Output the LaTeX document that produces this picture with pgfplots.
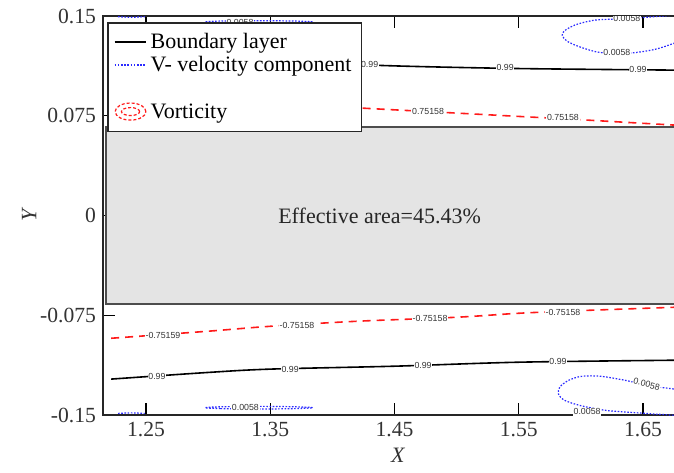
\documentclass[border=0pt]{standalone}
\usepackage{pgfplots}
\pgfplotsset{compat=1.18}
\usepackage{fontspec}
\setmainfont{Liberation Serif}
\newfontfamily\lblfont{Liberation Sans}
\definecolor{rectfill}{HTML}{E4E4E4}
\definecolor{rectedge}{HTML}{4D4D4D}
\definecolor{vblue}{HTML}{2B2BFF}
\definecolor{vred}{HTML}{FF1A1A}

\tikzset{clab/.style={font=\lblfont\fontsize{4.4}{5}\selectfont, fill=white, inner sep=0.4pt, text=black!80}}

\begin{document}
\begin{tikzpicture}
\begin{axis}[
    scale only axis, width=294.85pt, height=199.5pt,
    xmin=1.2154, xmax=1.69, ymin=-0.15, ymax=0.15,
    xtick={1.25,1.35,1.45,1.55,1.65},
    xticklabels={1.25,1.35,1.45,1.55,1.65},
    ytick={-0.15,-0.075,0,0.075,0.15},
    yticklabels={-0.15,-0.075,0,0.075,0.15},
    tick align=inside, major tick length=6pt,
    tick style={black, line width=0.6pt},
    axis line style={line width=0.8pt, black!85},
    tick label style={font=\fontsize{10.8}{12}\selectfont, text=black!80},
    label style={font=\fontsize{11}{13}\selectfont\itshape, text=black!80},
    xlabel={X}, ylabel={Y}, ylabel shift=-5pt, xlabel shift=-1pt,
    legend style={at={(rel axis cs:0.0068,0.985)}, anchor=north west,
        draw=black!85, line width=0.8pt, fill=white,
        font=\fontsize{11}{12}\selectfont, inner xsep=3pt, inner ysep=3pt,
        row sep=-1.5pt},
    legend cell align=left,
]
\coordinate (BL) at (rel axis cs:0,0);

% ---- blocked region ----
\addplot[fill=rectfill, draw=rectedge, line width=0.8pt, forget plot]
    coordinates {(1.2178,-0.0667) (1.72,-0.0667) (1.72,0.0667) (1.2178,0.0667)} -- cycle;
\node[font=\fontsize{11}{13}\selectfont, text=black!85] at (axis cs:1.438,0) {Effective area=45.43\%};

% ---- boundary layer (0.99) ----
\addplot[black, line width=0.8pt, smooth, forget plot] coordinates {
    (1.222,0.122) (1.30,0.118) (1.35,0.116) (1.45,0.1125) (1.55,0.1105) (1.675,0.1093) (1.69,0.109)};
\addplot[black, line width=0.8pt, smooth, forget plot] coordinates {
    (1.222,-0.123) (1.30,-0.118) (1.35,-0.1155) (1.45,-0.1133) (1.55,-0.1103) (1.675,-0.1088) (1.69,-0.1085)};

% ---- vorticity ----
\addplot[vred, line width=0.8pt, dash pattern=on 4pt off 3pt, smooth, forget plot] coordinates {
    (1.222,0.093) (1.30,0.088) (1.40,0.082) (1.50,0.077) (1.55,0.0745) (1.60,0.072) (1.675,0.068) (1.69,0.0675)};
\addplot[vred, line width=0.8pt, dash pattern=on 4pt off 3pt, smooth, forget plot] coordinates {
    (1.222,-0.0923) (1.30,-0.087) (1.35,-0.0833) (1.42,-0.0795) (1.50,-0.0765) (1.55,-0.0735) (1.60,-0.0715) (1.675,-0.069) (1.69,-0.0685)};

% ---- V-velocity ----
\addplot[vblue, line width=0.6pt, dash pattern=on 0.8pt off 0.8pt, smooth, forget plot] coordinates {
    (1.695,0.152) (1.66,0.1495) (1.632,0.1478) (1.612,0.147) (1.596,0.1435) (1.587,0.139) (1.585,0.1355)
    (1.589,0.131) (1.600,0.1265) (1.616,0.1225) (1.64,0.1222) (1.66,0.125) (1.675,0.1295) (1.69,0.134)};
\addplot[vblue, line width=0.6pt, dash pattern=on 0.8pt off 0.8pt, smooth, forget plot] coordinates {
    (1.69,-0.133) (1.675,-0.1305) (1.655,-0.128) (1.635,-0.1238) (1.615,-0.1208) (1.60,-0.121) (1.59,-0.124)
    (1.583,-0.129) (1.582,-0.1343) (1.587,-0.139) (1.60,-0.143) (1.62,-0.1465) (1.64,-0.148) (1.66,-0.1493) (1.69,-0.151)};
\addplot[vblue, line width=0.6pt, dash pattern=on 0.8pt off 0.8pt, smooth cycle, forget plot] coordinates {
    (1.2975,0.1455) (1.31,0.1448) (1.34,0.1445) (1.37,0.1448) (1.3844,0.1455) (1.37,0.1462) (1.34,0.1465) (1.31,0.1462)};
\addplot[vblue, line width=0.6pt, dash pattern=on 0.8pt off 0.8pt, smooth cycle, forget plot] coordinates {
    (1.2975,-0.1445) (1.31,-0.1452) (1.34,-0.1455) (1.37,-0.1452) (1.3844,-0.1445) (1.37,-0.1438) (1.34,-0.1435) (1.31,-0.1438)};
\addplot[vblue, line width=0.6pt, dash pattern=on 0.8pt off 0.8pt, smooth, forget plot] coordinates {
    (1.2275,0.1495) (1.238,0.1490) (1.249,0.1495)};
\addplot[vblue, line width=0.6pt, dash pattern=on 0.8pt off 0.8pt, smooth, forget plot] coordinates {
    (1.2275,-0.1488) (1.238,-0.1484) (1.249,-0.1488)};

% ---- contour labels ----
\node[clab] at (axis cs:1.430,0.1135) {0.99};
\node[clab] at (axis cs:1.539,0.111) {0.99};
\node[clab] at (axis cs:1.646,0.1095) {0.99};
\node[clab] at (axis cs:1.2588,-0.1208) {0.99};
\node[clab] at (axis cs:1.366,-0.1155) {0.99};
\node[clab] at (axis cs:1.473,-0.113) {0.99};
\node[clab] at (axis cs:1.5816,-0.110) {0.99};
\node[clab] at (axis cs:1.477,0.0785) {0.75158};
\node[clab] at (axis cs:1.5856,0.0735) {0.75158};
\node[clab] at (axis cs:1.2637,-0.090) {-0.75159};
\node[clab] at (axis cs:1.3715,-0.0825) {-0.75158};
\node[clab] at (axis cs:1.4786,-0.0775) {-0.75158};
\node[clab] at (axis cs:1.5856,-0.0728) {-0.75158};
\node[clab] at (axis cs:1.637,0.1478) {0.0058};
\node[clab] at (axis cs:1.629,0.1223) {0.0058};
\node[clab, rotate=-15] at (axis cs:1.653,-0.1268) {0.0058};
\node[clab] at (axis cs:1.605,-0.1475) {0.0058};
\node[clab] at (axis cs:1.3257,0.1455) {0.0058};
\node[clab] at (axis cs:1.33,-0.1445) {0.0058};

% ---- legend ----
\addlegendimage{legend image code/.code={
    \draw[black, line width=0.8pt] (0cm,0cm) -- (0.55cm,0cm);}}
\addlegendentry{Boundary layer}
\addlegendimage{legend image code/.code={
    \draw[vblue, line width=0.7pt, dash pattern=on 0.8pt off 0.8pt] (0cm,0cm) -- (0.55cm,0cm);}}
\addlegendentry{V- velocity component}
\addlegendimage{empty legend}
\addlegendentry{\strut}
\addlegendimage{legend image code/.code={
    \draw[vred, line width=0.6pt, dash pattern=on 1.5pt off 1pt] (0.28cm,0) ellipse (0.27cm and 0.15cm);
    \draw[vred, line width=0.6pt, dash pattern=on 1.5pt off 1pt] (0.28cm,0) ellipse (0.16cm and 0.07cm);}}
\addlegendentry{Vorticity}
\end{axis}
\pgfresetboundingbox
\path[use as bounding box] ([shift={(-51.5pt,-28.5pt)}]BL) rectangle ([shift={(285.5pt,207.5pt)}]BL);
\end{tikzpicture}
\end{document}
